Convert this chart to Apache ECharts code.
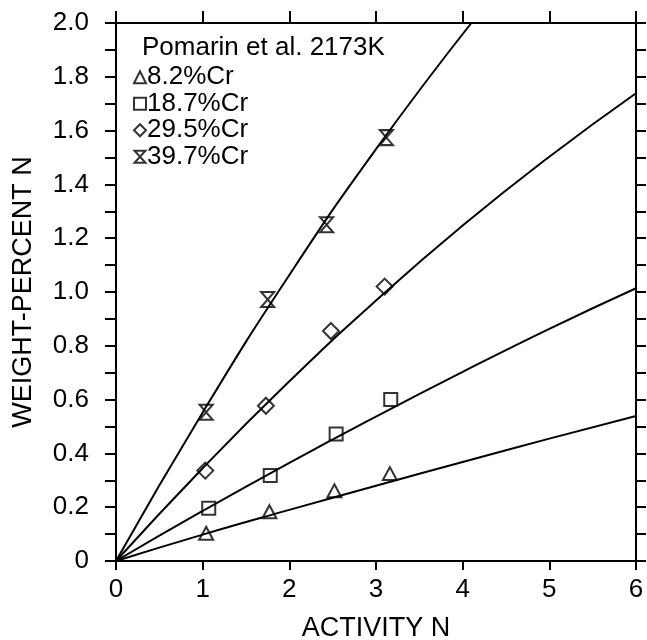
<!DOCTYPE html>
<html>
<head>
<meta charset="utf-8">
<script src="https://cdn.jsdelivr.net/npm/echarts@6/dist/echarts.min.js"></script>
<style>
  html, body { margin: 0; padding: 0; background: #fff; }
  #chart { width: 647px; height: 640px; }
</style>
</head>
<body>
<div id="chart"></div>
<script>
// Nitrogen solubility in Fe-Cr melts at 2173 K: weight-percent N against N activity
const seriesNames = ['8.2%Cr', '18.7%Cr', '29.5%Cr', '39.7%Cr'];

// measured points (activity, wt% N)
const activityCr8 = [1.04, 1.77, 2.52, 3.16];
const nitrogenCr8 = [0.103, 0.183, 0.261, 0.325];
const activityCr18 = [1.07, 1.78, 2.54, 3.17];
const nitrogenCr18 = [0.196, 0.318, 0.472, 0.600];
const activityCr29 = [1.03, 1.73, 2.48, 3.10];
const nitrogenCr29 = [0.336, 0.577, 0.855, 1.020];
const activityCr39 = [1.04, 1.75, 2.43, 3.12];
const nitrogenCr39 = [0.553, 0.972, 1.250, 1.574];

// fitted curves, read at whole activity steps
const fitActivity = [0, 1, 2, 3, 4, 5, 6];
const fitCr8 = [0, 0.098, 0.190, 0.280, 0.368, 0.455, 0.539];
const fitCr18 = [0, 0.186, 0.365, 0.537, 0.703, 0.863, 1.014];
const fitCr29 = [0, 0.345, 0.668, 0.968, 1.247, 1.503, 1.739];
const fitActivityCr39 = [0, 1, 2, 3, 4.1];
const fitCr39 = [0, 0.552, 1.063, 1.531, 2.0];

// axis ticks
const xTickValues = [0, 1, 2, 3, 4, 5, 6];
const yTickLabels = ['0', '0.2', '0.4', '0.6', '0.8', '1.0', '1.2', '1.4', '1.6', '1.8', '2.0'];

const FONT = '"Liberation Sans", Arial, Helvetica, sans-serif';
const INK = '#000';

const pairs = (xs, ys) => xs.map((x, i) => [x, ys[i]]);

const hourglass = 'path://M0,0L10,0L0,11L10,11Z';
const markerSymbols = ['triangle', 'rect', 'diamond', hourglass];
const markerSizes = [[14, 13], [13, 13], [16, 16], [13, 15]];
const pointSets = [
  pairs(activityCr8, nitrogenCr8),
  pairs(activityCr18, nitrogenCr18),
  pairs(activityCr29, nitrogenCr29),
  pairs(activityCr39, nitrogenCr39)
];
const fitSets = [
  pairs(fitActivity, fitCr8),
  pairs(fitActivity, fitCr18),
  pairs(fitActivity, fitCr29),
  pairs(fitActivityCr39, fitCr39)
];

const fitSeries = fitSets.map((d, i) => ({
  name: 'fit ' + seriesNames[i],
  type: 'line',
  data: d,
  smooth: true,
  showSymbol: false,
  silent: true,
  lineStyle: { color: INK, width: 2 },
  z: 2
}));

const pointSeries = pointSets.map((d, i) => ({
  name: seriesNames[i],
  type: 'scatter',
  data: d,
  symbol: markerSymbols[i],
  symbolSize: markerSizes[i],
  itemStyle: { color: 'rgba(255,255,255,0)', borderColor: INK, borderWidth: 2 },
  z: 3
}));

const axisLine = { show: true, onZero: false, lineStyle: { color: INK, width: 2 } };

const chart = echarts.init(document.getElementById('chart'), null, { renderer: 'canvas' });
chart.setOption({
  animation: false,
  backgroundColor: '#fff',
  textStyle: { fontFamily: FONT, color: INK },
  title: {
    text: 'Pomarin et al. 2173K',
    left: 142,
    top: 35,
    padding: 0,
    textStyle: { fontFamily: FONT, fontSize: 26, fontWeight: 'normal', color: INK }
  },
  legend: {
    data: seriesNames,
    orient: 'vertical',
    left: 133,
    top: 64,
    padding: 0,
    itemGap: 0,
    itemWidth: 12,
    itemHeight: 12,
    selectedMode: false,
    textStyle: { fontFamily: FONT, fontSize: 26, color: INK, lineHeight: 26.5, padding: [0, 0, 0, -4] }
  },
  grid: { left: 116, right: 11, top: 23, bottom: 79, containLabel: false, outerBoundsMode: 'none' },
  xAxis: [
    {
      type: 'value', position: 'bottom', min: 0, max: 6, interval: 1,
      name: 'ACTIVITY N', nameLocation: 'middle', nameGap: 54,
      nameTextStyle: { fontFamily: FONT, fontSize: 27, color: INK },
      axisLine: axisLine,
      axisTick: { show: true, inside: false, length: 9, lineStyle: { color: INK, width: 2 } },
      axisLabel: {
        fontFamily: FONT, fontSize: 26, color: INK, margin: 16,
        formatter: v => (xTickValues.indexOf(v) >= 0 ? String(v) : '')
      },
      splitLine: { show: false }
    },
    {
      type: 'value', position: 'top', min: 0, max: 6, interval: 1,
      axisLine: axisLine,
      axisTick: { show: true, inside: false, length: 12, lineStyle: { color: INK, width: 2 } },
      axisLabel: { show: false },
      splitLine: { show: false }
    }
  ],
  yAxis: [
    {
      type: 'value', position: 'left', min: 0, max: 2, interval: 0.2,
      name: 'WEIGHT-PERCENT N', nameLocation: 'middle', nameGap: 79,
      nameTextStyle: { fontFamily: FONT, fontSize: 27, color: INK },
      axisLine: axisLine,
      axisTick: { show: true, inside: false, length: 11, lineStyle: { color: INK, width: 2 } },
      minorTick: { show: true, splitNumber: 2, length: 11, lineStyle: { color: INK, width: 2 } },
      axisLabel: {
        fontFamily: FONT, fontSize: 26, color: INK, margin: 27,
        formatter: v => yTickLabels[Math.round(v / 0.2)]
      },
      splitLine: { show: false }
    },
    {
      type: 'value', position: 'right', min: 0, max: 2, interval: 0.2,
      axisLine: axisLine,
      axisTick: { show: true, inside: false, length: 10, lineStyle: { color: INK, width: 2 } },
      minorTick: { show: true, splitNumber: 2, length: 10, lineStyle: { color: INK, width: 2 } },
      axisLabel: { show: false },
      splitLine: { show: false }
    }
  ],
  series: fitSeries.concat(pointSeries)
});
</script>
</body>
</html>
